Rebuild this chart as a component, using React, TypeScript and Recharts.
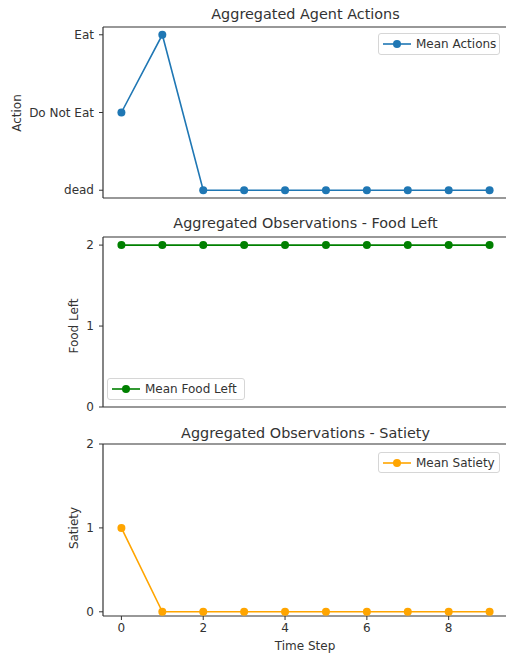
import React from 'react';
import { LineChart, Line, XAxis, YAxis, ReferenceLine } from 'recharts';

const timeSteps = [0, 1, 2, 3, 4, 5, 6, 7, 8, 9];
const meanActions = [1, 2, 0, 0, 0, 0, 0, 0, 0, 0];
const meanFoodLeft = [2, 2, 2, 2, 2, 2, 2, 2, 2, 2];
const meanSatiety = [1, 0, 0, 0, 0, 0, 0, 0, 0, 0];
const actionLabels = ['dead', 'Do Not Eat', 'Eat'];
const xTicks = [0, 2, 4, 6, 8];
const countTicks = [0, 1, 2];

const FONT = '"DejaVu Sans", sans-serif';
const AXIS = '#333';
const TEXT = '#333';
const X_DOMAIN: [number, number] = [-0.45, 9.45];

type PanelProps = {
  top: number;
  height: number;
  marginTop: number;
  xAxisHeight: number;
  values: number[];
  color: string;
  yDomain: [number, number];
  yFmt?: (v: number) => string;
  showXLabels: boolean;
};

function Panel({ top, height, marginTop, xAxisHeight, values, color, yDomain, yFmt, showXLabels }: PanelProps) {
  const data = timeSteps.map((t, i) => ({ t, v: values[i] }));
  const tickStyle = { fontSize: 12, fill: TEXT, fontFamily: FONT };
  return (
    <LineChart
      width={560}
      height={height}
      data={data}
      margin={{ top: marginTop, right: 52, bottom: 0, left: 0 }}
      style={{ position: 'absolute', left: 0, top }}
    >
      <ReferenceLine y={yDomain[1]} stroke={AXIS} strokeWidth={1.2} ifOverflow="visible" />
      <XAxis
        dataKey="t"
        type="number"
        domain={X_DOMAIN}
        ticks={xTicks}
        allowDataOverflow
        height={xAxisHeight}
        tick={showXLabels ? tickStyle : false}
        tickSize={4}
        tickMargin={3}
        stroke={AXIS}
        axisLine={{ stroke: AXIS, strokeWidth: 1.2 }}
        tickLine={{ stroke: AXIS }}
      />
      <YAxis
        type="number"
        domain={yDomain}
        ticks={countTicks}
        allowDataOverflow
        width={103}
        tick={tickStyle}
        tickFormatter={yFmt}
        tickSize={4}
        tickMargin={5}
        stroke={AXIS}
        axisLine={{ stroke: AXIS, strokeWidth: 1.2 }}
        tickLine={{ stroke: AXIS }}
      />
      <Line
        type="linear"
        dataKey="v"
        stroke={color}
        strokeWidth={1.6}
        dot={{ r: 4, fill: color, stroke: color, strokeWidth: 0 }}
        activeDot={false}
        isAnimationActive={false}
      />
    </LineChart>
  );
}

function Title({ text, cy }: { text: string; cy: number }) {
  return (
    <div
      style={{
        position: 'absolute',
        left: 105.5,
        width: 400,
        top: cy,
        transform: 'translateY(-50%)',
        textAlign: 'center',
        fontFamily: FONT,
        fontSize: 14.4,
        color: TEXT,
        lineHeight: 1,
        whiteSpace: 'nowrap',
      }}
    >
      {text}
    </div>
  );
}

function AxisLabel({ text, cx, cy, rotate }: { text: string; cx: number; cy: number; rotate?: boolean }) {
  return (
    <div
      style={{
        position: 'absolute',
        left: cx,
        top: cy,
        transform: `translate(-50%, -50%)${rotate ? ' rotate(-90deg)' : ''}`,
        fontFamily: FONT,
        fontSize: 12,
        color: TEXT,
        lineHeight: 1,
        whiteSpace: 'nowrap',
      }}
    >
      {text}
    </div>
  );
}

function LegendBox({ left, top, width, height, color, label }: { left: number; top: number; width: number; height: number; color: string; label: string }) {
  return (
    <div
      style={{
        position: 'absolute',
        left,
        top,
        width,
        height,
        border: '1px solid #d6d6d6',
        borderRadius: 3,
        background: 'rgba(255,255,255,0.85)',
        boxSizing: 'border-box',
        fontFamily: FONT,
        fontSize: 12,
        color: TEXT,
      }}
    >
      <svg style={{ position: 'absolute', left: 4, top: height / 2 - 7 }} width={28} height={12}>
        <line x1={0} y1={6} x2={28} y2={6} stroke={color} strokeWidth={1.6} />
        <circle cx={14} cy={6} r={4} fill={color} />
      </svg>
      <span
        style={{
          position: 'absolute',
          left: 37,
          top: '50%',
          transform: 'translateY(-50%)',
          whiteSpace: 'nowrap',
          lineHeight: 1,
        }}
      >
        {label}
      </span>
    </div>
  );
}

export default function App() {
  return (
    <div
      style={{
        position: 'absolute',
        left: 0,
        top: 0,
        width: 506,
        height: 655,
        overflow: 'hidden',
        background: '#fff',
      }}
    >
      <Panel
        top={0}
        height={215}
        marginTop={27}
        xAxisHeight={17}
        values={meanActions}
        color="#1f77b4"
        yDomain={[-0.1, 2.1]}
        yFmt={(v: number) => actionLabels[v] ?? ''}
        showXLabels={false}
      />
      <Panel
        top={215}
        height={210}
        marginTop={22}
        xAxisHeight={18}
        values={meanFoodLeft}
        color="#008000"
        yDomain={[0, 2.1]}
        showXLabels={false}
      />
      <Panel
        top={425}
        height={230}
        marginTop={19}
        xAxisHeight={39}
        values={meanSatiety}
        color="#ffa500"
        yDomain={[-0.05, 2.0]}
        showXLabels={true}
      />
      <Title text="Aggregated Agent Actions" cy={14} />
      <Title text="Aggregated Observations - Food Left" cy={223} />
      <Title text="Aggregated Observations - Satiety" cy={433} />
      <AxisLabel text="Action" cx={17} cy={113} rotate />
      <AxisLabel text="Food Left" cx={74} cy={326} rotate />
      <AxisLabel text="Satiety" cx={74} cy={528} rotate />
      <AxisLabel text="Time Step" cx={305} cy={646} />
      <LegendBox left={378} top={33} width={122} height={22} color="#1f77b4" label="Mean Actions" />
      <LegendBox left={107} top={378} width={138} height={22} color="#008000" label="Mean Food Left" />
      <LegendBox left={378} top={452} width={122} height={21} color="#ffa500" label="Mean Satiety" />
    </div>
  );
}
